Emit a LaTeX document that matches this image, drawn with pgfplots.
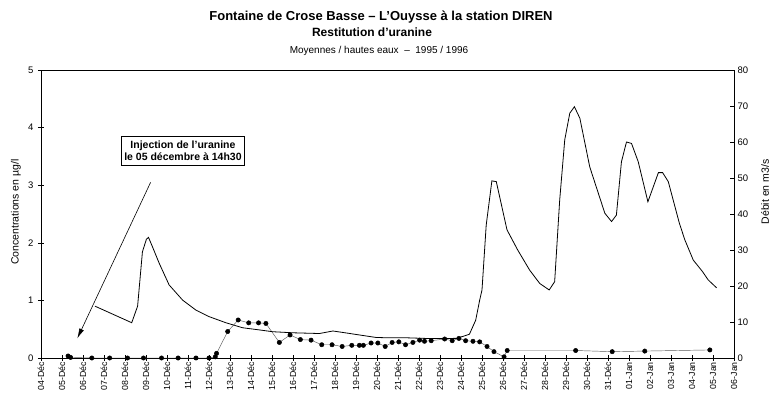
\documentclass[border=0pt]{standalone}
\usepackage{fontspec}
\setmainfont{Liberation Sans}
\usepackage{pgfplots}
\pgfplotsset{compat=1.18}
\usetikzlibrary{arrows.meta}

\begin{document}
\begin{tikzpicture}
\useasboundingbox (0pt,0pt) rectangle (774pt,395pt);
\node[font=\bfseries\fontsize{13}{15}\selectfont, anchor=base, inner sep=0pt] at (381pt,374.3pt) {Fontaine de Crose Basse – L'Ouysse à la station DIREN};
\node[font=\bfseries\fontsize{12}{14}\selectfont, anchor=base, inner sep=0pt] at (372pt,358.5pt) {Restitution d'uranine};
\node[font=\fontsize{10}{12}\selectfont, anchor=base, inner sep=0pt] at (379pt,341.7pt) {Moyennes / hautes eaux \ – \ 1995 / 1996};
\node[rotate=90, font=\fontsize{10.5}{12}\selectfont, inner sep=0pt] at (16pt,183pt) {Concentrations en µg/l};
\node[rotate=90, font=\fontsize{10.5}{12}\selectfont, inner sep=0pt] at (765pt,203pt) {Débit en m3/s};

\begin{axis}[
  at={(41pt,37pt)}, anchor=south west,
  scale only axis, width=693pt, height=288pt,
  xmin=0, xmax=33, ymin=0, ymax=5,
  xtick={0,1,...,33},
  xticklabels={04-Déc,05-Déc,06-Déc,07-Déc,08-Déc,09-Déc,10-Déc,11-Déc,12-Déc,13-Déc,14-Déc,15-Déc,16-Déc,17-Déc,18-Déc,19-Déc,20-Déc,21-Déc,22-Déc,23-Déc,24-Déc,25-Déc,26-Déc,27-Déc,28-Déc,29-Déc,30-Déc,31-Déc,01-Jan,02-Jan,03-Jan,04-Jan,05-Jan,06-Jan},
  xticklabel style={rotate=90, anchor=east, font=\fontsize{8.8}{10}\selectfont, inner sep=1pt},
  ytick={0,1,...,5},
  yticklabel style={font=\fontsize{9.5}{11}\selectfont, xshift=-1pt},
  /pgf/number format/assume math mode=true,
  xtick pos=bottom, ytick pos=left,
  tick align=center, major tick length=6pt,
  axis line style={line width=0.6pt},
  tick style={line width=0.5pt, black},
  clip=false,
]
\addplot[black!65, line width=0.45pt, mark=*, mark size=2.2pt, mark options={black, solid}] coordinates {
(1.29,0.035) (1.41,0.01) (2.42,0) (3.27,0) (4.12,0) (4.88,0) (5.74,0) (6.53,0) (7.38,0) (8.0,0)
(8.3,0.02) (8.36,0.08) (8.89,0.46) (9.39,0.66) (9.89,0.61) (10.36,0.61) (10.71,0.60)
(11.35,0.27) (11.86,0.40) (12.35,0.32) (12.86,0.31) (13.37,0.23) (13.86,0.23) (14.34,0.20)
(14.8,0.22) (15.16,0.22) (15.35,0.22) (15.72,0.26) (16.04,0.26) (16.39,0.20) (16.72,0.27)
(17.04,0.28) (17.36,0.23) (17.71,0.27) (18.03,0.31) (18.26,0.29) (18.58,0.30) (19.22,0.33)
(19.58,0.30) (19.9,0.34) (20.22,0.30) (20.57,0.29) (20.89,0.28) (21.24,0.20) (21.57,0.11)
(22.05,0.02) (22.2,0.13) (25.46,0.13) (27.2,0.11) (28.75,0.12) (31.85,0.14)
};
\node[draw, line width=0.5pt, align=center, font=\bfseries\fontsize{10.5}{12.6}\selectfont, inner xsep=3pt, inner ysep=4.5pt] at (axis cs:6.76,3.6) {Injection de l'uranine\\le 05 décembre à 14h30};
\draw[line width=0.6pt, -{Latex[length=10pt,width=5pt]}] (axis cs:5.22,3.05) -- (axis cs:1.73,0.34);
\end{axis}

\begin{axis}[
  at={(41pt,37pt)}, anchor=south west,
  scale only axis, width=693pt, height=288pt,
  xmin=0, xmax=33, ymin=0, ymax=80,
  axis x line=none, axis y line*=right,
  ytick={0,10,...,80},
  yticklabel style={font=\fontsize{9.5}{11}\selectfont, anchor=west, xshift=0pt},
  /pgf/number format/assume math mode=true,
  tick align=inside, major tick length=4pt,
  axis line style={line width=0.6pt},
  tick style={line width=0.5pt, black},
]
\addplot[black, line width=0.8pt, mark=none] coordinates {
(2.57,14.4) (4.32,9.8) (4.6,14.4) (4.83,29.5) (5.02,33.0) (5.12,33.5) (5.3,31.0) (5.63,26.3)
(6.1,20.3) (6.74,16.1) (7.38,13.3) (8.0,11.5) (8.8,9.8) (9.6,8.4) (10.4,7.8) (11.03,7.3)
(12.0,7.0) (13.26,6.8) (13.9,7.5) (14.37,7.1) (15.16,6.4) (15.96,5.7) (16.6,5.6) (17.2,5.65)
(18.5,5.4) (19.8,5.45) (20.4,6.6) (20.7,10.5) (20.89,16.1) (21.0,18.9) (21.2,36.9)
(21.47,49.2) (21.68,49.0) (22.19,35.6) (22.7,30.0) (23.27,24.4) (23.75,20.7) (24.2,18.9)
(24.46,21.2) (24.7,43.9) (24.94,60.6) (25.18,68.0) (25.4,69.8) (25.66,66.6) (26.13,53.1)
(26.85,40.2) (27.17,37.9) (27.4,39.7) (27.64,54.5) (27.88,60.0) (28.12,59.6) (28.44,54.5)
(28.9,43.4) (29.4,51.5) (29.6,51.5) (29.87,49.0) (30.4,37.4) (30.66,32.8) (31.06,27.2)
(31.5,24.0) (31.77,21.7) (32.17,19.5)
};
\end{axis}
\end{tikzpicture}
\end{document}
